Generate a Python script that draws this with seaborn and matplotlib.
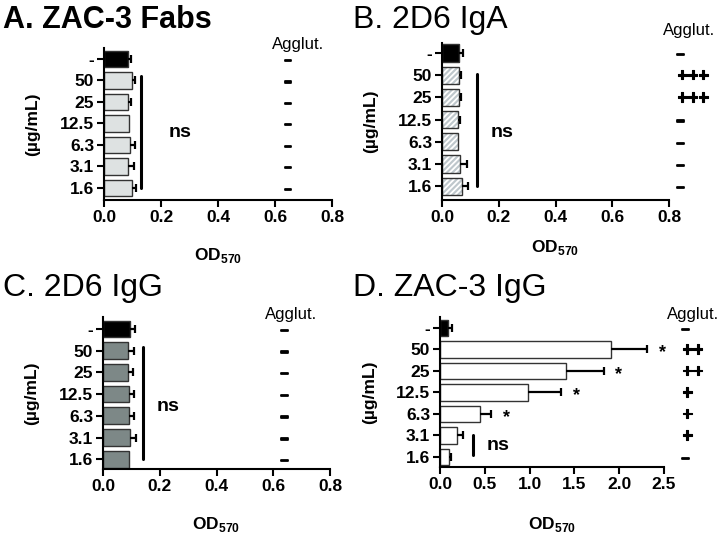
import numpy as np
import pandas as pd
import matplotlib
matplotlib.use("Agg")
import matplotlib.pyplot as plt
import matplotlib.patheffects as pe
import seaborn as sns

# ==============================
# Data
# ==============================
conc = ["-", "50", "25", "12.5", "6.3", "3.1", "1.6"]

fabs_od = [0.085, 0.097, 0.083, 0.089, 0.091, 0.085, 0.097]
fabs_err = [0.009, 0.012, 0.011, 0.0, 0.019, 0.022, 0.015]
fabs_agg = ["-", "-", "-", "-", "-", "-", "-"]

iga_od = [0.061, 0.059, 0.060, 0.055, 0.057, 0.065, 0.072]
iga_err = [0.013, 0.008, 0.008, 0.007, 0.0, 0.022, 0.018]
iga_agg = ["-", "+++", "+++", "-", "-", "-", "-"]

igg2d6_od = [0.096, 0.088, 0.087, 0.092, 0.093, 0.095, 0.092]
igg2d6_err = [0.018, 0.020, 0.017, 0.019, 0.017, 0.020, 0.0]
igg2d6_agg = ["-", "-", "-", "-", "-", "-", "-"]

zac_od = [0.086, 1.914, 1.41, 0.985, 0.448, 0.194, 0.10]
zac_err = [0.045, 0.40, 0.415, 0.37, 0.123, 0.067, 0.023]
zac_agg = ["-", "++", "++", "+", "+", "+", "-"]
zac_star = ["", "*", "*", "*", "*", "", ""]

# ==============================
# Style
# ==============================
sns.set_style("ticks")
plt.rcParams["font.family"] = ["Liberation Sans", "DejaVu Sans"]
plt.rcParams["mathtext.fontset"] = "custom"
plt.rcParams["mathtext.bf"] = "Liberation Sans:bold"
plt.rcParams["mathtext.rm"] = "Liberation Sans"
plt.rcParams["hatch.linewidth"] = 1.3
for k in ["text.color", "axes.labelcolor", "xtick.color", "ytick.color", "axes.edgecolor"]:
    plt.rcParams[k] = "black"

fig = plt.figure(figsize=(7.25, 5.36), dpi=100)
thick = [pe.withStroke(linewidth=0.8, foreground="black")]
dash_fx = [pe.withStroke(linewidth=1.3, foreground="black")]


def draw_panel(rect, od, err, agg, fill, xmax, xstep, ylim, title, tpos, tweight,
               agg_x, agg_ha, agg_title, xlab_y, hatch=None):
    ax = fig.add_axes(rect)
    colors = ["black"] + [fill] * (len(conc) - 1)
    df = pd.DataFrame({"conc": conc, "od": od})
    if hatch is None:
        sns.barplot(data=df, x="od", y="conc", hue="conc", palette=colors, legend=False,
                    orient="h", width=0.77, edgecolor="#333333", linewidth=1,
                    errorbar=None, ax=ax)
    else:
        # hatched fill first, then outlines on top
        sns.barplot(data=df, x="od", y="conc", hue="conc", palette=colors, legend=False,
                    orient="h", width=0.77, edgecolor="white", linewidth=0,
                    errorbar=None, ax=ax)
        for p in ax.patches[1:]:
            p.set_hatch(hatch)
        sns.barplot(data=df, x="od", y="conc", orient="h", width=0.77, fill=False,
                    edgecolor="#333333", linewidth=1, errorbar=None, ax=ax)

    # one-sided error bars (line + cap on the right only)
    pos = np.arange(len(conc))
    od_a, err_a = np.array(od), np.array(err)
    m = err_a > 0
    ax.hlines(pos[m], od_a[m], od_a[m] + err_a[m], color="black", lw=1.6, zorder=3)
    ax.scatter(od_a[m] + err_a[m], pos[m], marker="|", s=30, linewidths=1.6,
               color="black", zorder=3)

    ax.set_xlim(0, xmax)
    ax.set_ylim(*ylim)
    ax.set_xticks(np.arange(0, xmax + 1e-9, xstep))
    ax.set_xticklabels([f"{v:.1f}" for v in np.arange(0, xmax + 1e-9, xstep)])
    sns.despine(ax=ax)
    for s in ["left", "bottom"]:
        ax.spines[s].set_linewidth(1.5)
    ax.tick_params(width=1.5, length=5, labelsize=12.5, pad=2)
    for lab in ax.get_xticklabels() + ax.get_yticklabels():
        lab.set_fontweight("bold")

    ax.set_xlabel(r"$\mathbf{OD}_{\mathbf{570}}$", fontsize=12.5)
    ax.xaxis.set_label_coords(0.5, xlab_y)
    ax.set_ylabel("(\u00b5g/mL)", fontsize=12.5, fontweight="bold")
    ax.yaxis.set_label_coords(-0.28, 0.5)

    # agglutination column
    tr = ax.get_yaxis_transform()
    for i, a in enumerate(agg):
        if a == "-":
            ax.text(agg_x, i + 0.05, "\u2013", transform=tr, ha=agg_ha, va="center",
                    fontsize=10, fontweight="bold", clip_on=False, path_effects=dash_fx)
        else:
            ax.text(agg_x, i + 0.05, a, transform=tr, ha=agg_ha, va="center",
                    fontsize=13, fontweight="bold", clip_on=False, path_effects=thick)
    ax.text(agg_title[0], agg_title[1], "Agglut.", transform=tr, ha="center",
            va="center", fontsize=12, clip_on=False)

    fig.text(tpos[0] / 725, 1 - tpos[1] / 536, title, fontsize=22 if tweight == "bold" else 23,
             fontweight=tweight, ha="left", va="baseline")
    return ax


# ==============================
# A. ZAC-3 Fabs
# ==============================
axA = draw_panel([104 / 725, 336 / 536, 228 / 725, 152 / 536], fabs_od, fabs_err, fabs_agg,
                 "#dde3e3", 0.8, 0.2, (6.56, -0.51), "A. ZAC-3 Fabs", (3, 28), "bold",
                 0.807, "center", (0.85, -0.68), -0.30)
axA.plot([0.13, 0.13], [0.8, 6.0], color="black", lw=2.2)
axA.text(0.225, 3.4, "ns", fontsize=14, fontweight="bold", va="center")

# ==============================
# B. 2D6 IgA
# ==============================
axB = draw_panel([442 / 725, 336 / 536, 227 / 725, 157 / 536], iga_od, iga_err, iga_agg,
                 "#bcc8ce", 0.8, 0.2, (6.62, -0.45), "B. 2D6 IgA", (353, 28), "normal",
                 1.035, "left", (1.09, -1.0), -0.24, hatch="//////")
axB.plot([0.123, 0.123], [0.95, 6.0], color="black", lw=2.2)
axB.text(0.17, 3.6, "ns", fontsize=14, fontweight="bold", va="center")

# ==============================
# C. 2D6 IgG
# ==============================
axC = draw_panel([103 / 725, 67 / 536, 227 / 725, 152 / 536], igg2d6_od, igg2d6_err, igg2d6_agg,
                 "#7b8a88", 0.8, 0.2, (6.45, -0.55), "C. 2D6 IgG", (3, 296), "normal",
                 0.80, "center", (0.83, -0.65), -0.30)
axC.plot([0.141, 0.141], [0.83, 6.0], color="black", lw=2.2)
axC.text(0.19, 3.55, "ns", fontsize=14, fontweight="bold", va="center")

# ==============================
# D. ZAC-3 IgG
# ==============================
axD = draw_panel([440 / 725, 69 / 536, 224 / 725, 150 / 536], zac_od, zac_err, zac_agg,
                 "white", 2.5, 0.5, (6.47, -0.51), "D. ZAC-3 IgG", (353, 296), "normal",
                 1.08, "left", (1.13, -0.62), -0.32)
for i, s in enumerate(zac_star):
    if s:
        axD.text(zac_od[i] + zac_err[i] + 0.17, i + 0.15, s, fontsize=13,
                 fontweight="bold", ha="center", va="center")
axD.plot([0.373, 0.373], [4.98, 5.9], color="black", lw=2.2)
axD.text(0.52, 5.45, "ns", fontsize=14, fontweight="bold", va="center")

fig.savefig("out.png", dpi=100)
